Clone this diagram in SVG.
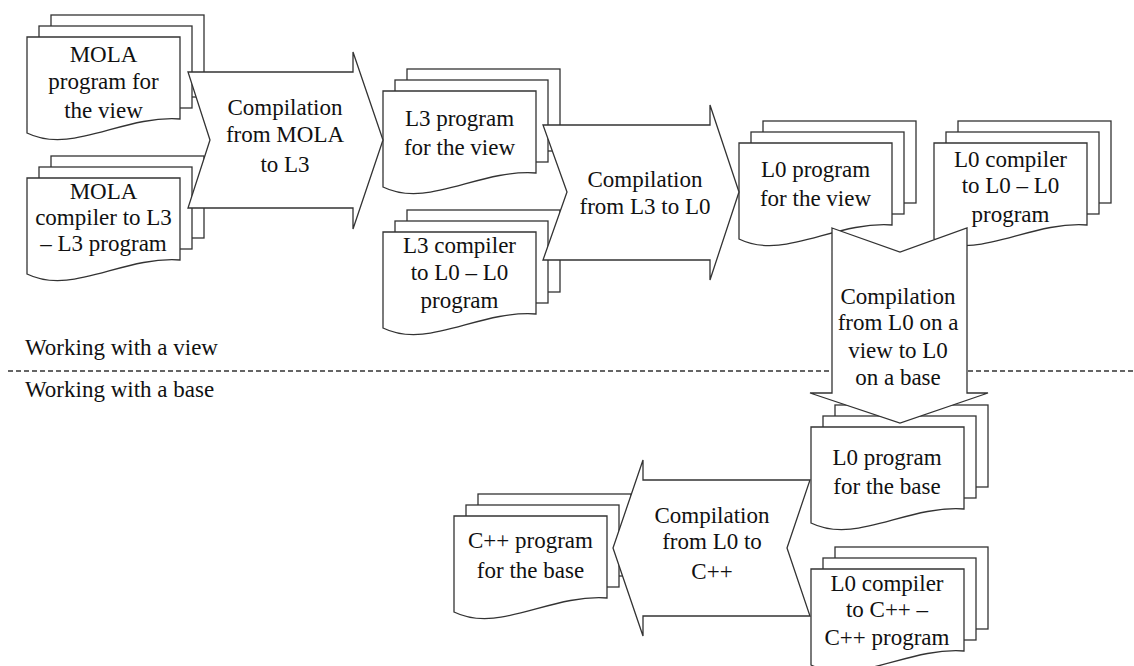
<svg xmlns="http://www.w3.org/2000/svg" xmlns:xlink="http://www.w3.org/1999/xlink" width="1134" height="666" viewBox="0 0 1134 666">
<style>
.sh{fill:#fff;stroke:#333;stroke-width:1.3;stroke-linejoin:miter}
.t{font-family:'Liberation Serif','DejaVu Serif',serif;font-size:23px;fill:#111;text-anchor:middle}
.lb{font-family:'Liberation Serif','DejaVu Serif',serif;font-size:23px;fill:#111}
.dash{stroke:#333;stroke-width:1.3;stroke-dasharray:5 3;fill:none}
</style>
<defs>
<g id="doc">
<rect class="sh" x="24" y="-22" width="153" height="82"/>
<rect class="sh" x="12" y="-11" width="153" height="82"/>
<path class="sh" d="M0,0 H153 V82 C95,78 45,118 0,96 Z"/>
</g>
</defs>
<rect width="1134" height="666" fill="#fff"/>

<line class="dash" x1="8" y1="371" x2="1134" y2="371"/>
<text class="lb" x="25" y="355">Working with a view</text>
<text class="lb" x="25" y="397">Working with a base</text>

<g id="mola-program">
<use xlink:href="#doc" transform="translate(27,37)"/>
<text class="t" x="103.5" y="62">MOLA</text>
<text class="t" x="103.5" y="89">program for</text>
<text class="t" x="103.5" y="118">the view</text>
</g>
<g id="mola-compiler">
<use xlink:href="#doc" transform="translate(27,178)"/>
<text class="t" x="103.5" y="199">MOLA</text>
<text class="t" x="103.5" y="225">compiler to L3</text>
<text class="t" x="103.5" y="251">– L3 program</text>
</g>
<g id="l3-program">
<use xlink:href="#doc" transform="translate(383,91)"/>
<text class="t" x="459.5" y="126">L3 program</text>
<text class="t" x="459.5" y="155">for the view</text>
</g>
<g id="l3-compiler">
<use xlink:href="#doc" transform="translate(383,232)"/>
<text class="t" x="459.5" y="253">L3 compiler</text>
<text class="t" x="459.5" y="280">to L0 – L0</text>
<text class="t" x="459.5" y="308">program</text>
</g>
<g id="l0-program-view">
<use xlink:href="#doc" transform="translate(739,143)"/>
<text class="t" x="815.5" y="177">L0 program</text>
<text class="t" x="815.5" y="206">for the view</text>
</g>
<g id="l0-compiler-l0">
<use xlink:href="#doc" transform="translate(934,143)"/>
<text class="t" x="1010.5" y="167">L0 compiler</text>
<text class="t" x="1010.5" y="193">to L0 – L0</text>
<text class="t" x="1010.5" y="222">program</text>
</g>
<g id="l0-program-base">
<use xlink:href="#doc" transform="translate(811,427)"/>
<text class="t" x="887" y="465">L0 program</text>
<text class="t" x="887" y="494">for the base</text>
</g>
<g id="l0-compiler-cpp">
<use xlink:href="#doc" transform="translate(811,569)"/>
<text class="t" x="887" y="591">L0 compiler</text>
<text class="t" x="887" y="617">to C++ –</text>
<text class="t" x="887" y="645">C++ program</text>
</g>
<g id="cpp-program">
<use xlink:href="#doc" transform="translate(454,516)"/>
<text class="t" x="530.5" y="548">C++ program</text>
<text class="t" x="530.5" y="578">for the base</text>
</g>

<g id="connectors">
<g id="compile-mola-l3">
<polygon class="sh" points="188,72 353,72 353,52 383,140 353,229 353,208 188,208 210,140"/>
<text class="t" x="285" y="115">Compilation</text>
<text class="t" x="285" y="142">from MOLA</text>
<text class="t" x="285" y="172">to L3</text>
</g>
<g id="compile-l3-l0">
<polygon class="sh" points="543,125 710,125 710,105 739,192 710,280 710,260 543,260 567,192"/>
<text class="t" x="645" y="187">Compilation</text>
<text class="t" x="645" y="214">from L3 to L0</text>
</g>
<g id="compile-view-base">
<polygon class="sh" points="832,228 900,252 967,228 967,393 988,393 900,423 810,393 832,393"/>
<text class="t" x="898" y="304">Compilation</text>
<text class="t" x="898" y="330">from L0 on a</text>
<text class="t" x="898" y="358">view to L0</text>
<text class="t" x="898" y="385">on a base</text>
</g>
<g id="compile-l0-cpp">
<polygon class="sh" points="810,480 643,480 643,460 613,548 643,636 643,616 810,616 787,548"/>
<text class="t" x="712" y="523">Compilation</text>
<text class="t" x="712" y="549">from L0 to</text>
<text class="t" x="712" y="579">C++</text>
</g>
</g>
</svg>
